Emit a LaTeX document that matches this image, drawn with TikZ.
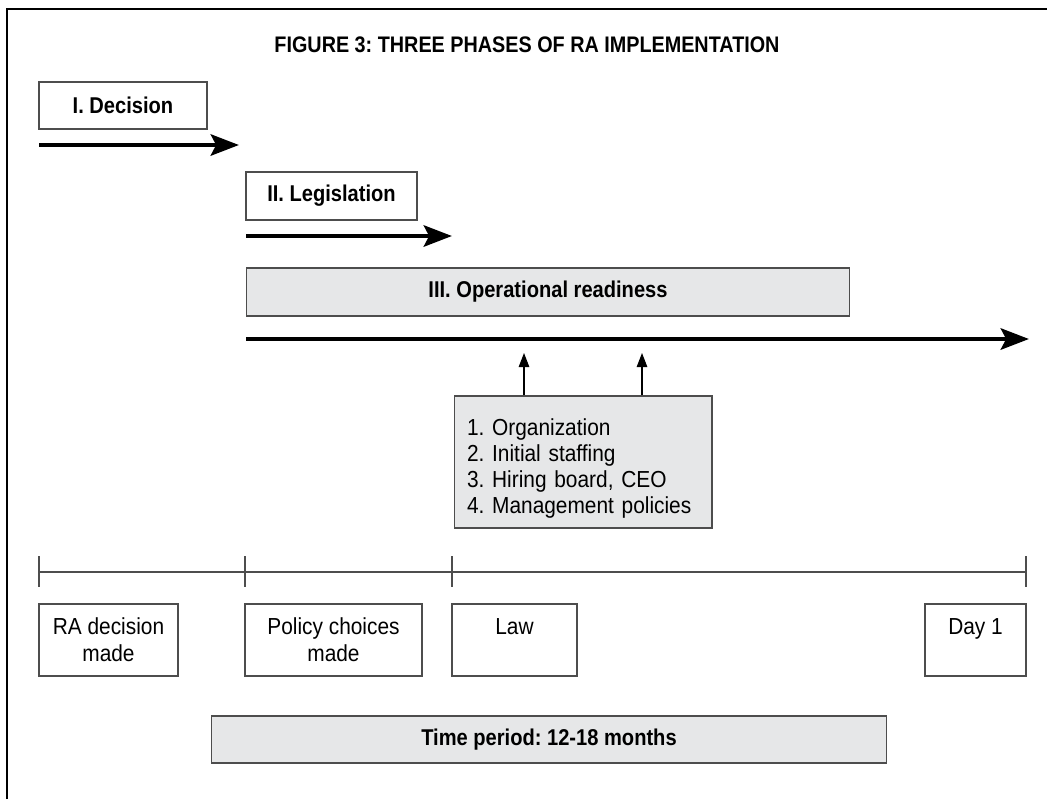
\documentclass[tikz,border=0pt]{standalone}
\usepackage{fontspec}
\setmainfont{Liberation Sans}[FakeStretch=0.9]
\newfontfamily\hdfont{Liberation Sans}[FakeStretch=0.88]
\usepackage{tikz}
\usetikzlibrary{arrows.meta}
\definecolor{boxgray}{RGB}{230,231,232}
\definecolor{edgegray}{RGB}{77,77,77}
\frenchspacing

\begin{document}
\begin{tikzpicture}[x=0.02cm,y=-0.02cm,
  phase/.style={draw=edgegray,line width=0.6pt,inner sep=0pt,font=\hdfont\bfseries\fontsize{13}{15}\selectfont},
  greybox/.style={phase,fill=boxgray},
  stage/.style={draw=edgegray,line width=0.6pt,inner sep=0pt,align=center,minimum height=1.44cm,font=\fontsize{13.2}{15.3}\selectfont},
  bigarrow/.style={line width=2.8pt,-{Stealth[length=16pt,width=12pt,inset=3pt]}},
  feed/.style={line width=0.6pt,-{Triangle[length=8pt,width=6pt]}}]
\useasboundingbox (0,0) rectangle (1047,799);
\draw[line width=1.2pt] (7,799)--(7,9)--(1047,9);
\node[font=\hdfont\bfseries\fontsize{12.8}{15}\selectfont] (title) at (527,45) {FIGURE 3: THREE PHASES OF RA IMPLEMENTATION};
\node[phase,minimum width=3.36cm,minimum height=0.94cm] (decision) at (123,105.5) {I. Decision};
\node[phase,minimum width=3.42cm,minimum height=0.96cm] (legis) at (331.5,196) {II. Legislation};
\node[greybox,minimum width=12.08cm,minimum height=0.96cm] (ops) at (548,292) {III. Operational readiness};
\coordinate (a1s) at (39,145); \coordinate (a1e) at (239,145);
\coordinate (a2s) at (246,236); \coordinate (a2e) at (452,236);
\coordinate (a3s) at (246,339); \coordinate (a3e) at (1029,339);
\draw[bigarrow] (a1s)--(a1e);
\draw[bigarrow] (a2s)--(a2e);
\draw[bigarrow] (a3s)--(a3e);
\node[draw=edgegray,fill=boxgray,line width=0.6pt,inner xsep=0.26cm,inner ysep=0pt,text width=4.64cm,minimum height=2.64cm,align=left,font=\fontsize{13.2}{14.9}\selectfont] (tasks) at (583,462)
  {\rule{0pt}{1.3em}1. Organization\\2. Initial staffing\\3. Hiring board, CEO\\4. Management policies};
\coordinate (up1) at (524,353); \coordinate (up2) at (642,353);
\draw[feed] (tasks.north -| up1)--(up1);
\draw[feed] (tasks.north -| up2)--(up2);
\coordinate (t0) at (39,572); \coordinate (t1) at (245,572);
\coordinate (t2) at (452,572); \coordinate (t3) at (1026,572);
\draw[edgegray,line width=1.1pt] (t0)--(t3);
\foreach \t in {t0,t1,t2,t3}
  \draw[edgegray,line width=1.1pt] ([yshift=0.32cm]\t)--([yshift=-0.3cm]\t);
\node[stage,minimum width=2.78cm] (radec) at (108.5,640) {RA decision\\made};
\node[stage,minimum width=3.54cm] (policy) at (333.5,640) {Policy choices\\made};
\node[stage,minimum width=2.5cm] (law) at (514.5,640) {Law\\\phantom{made}};
\node[stage,minimum width=2.02cm] (day) at (975.5,640) {Day 1\\\phantom{made}};
\node[greybox,minimum width=13.52cm,minimum height=0.94cm] (period) at (549,739.5) {Time period: 12-18 months};
\end{tikzpicture}
\end{document}
